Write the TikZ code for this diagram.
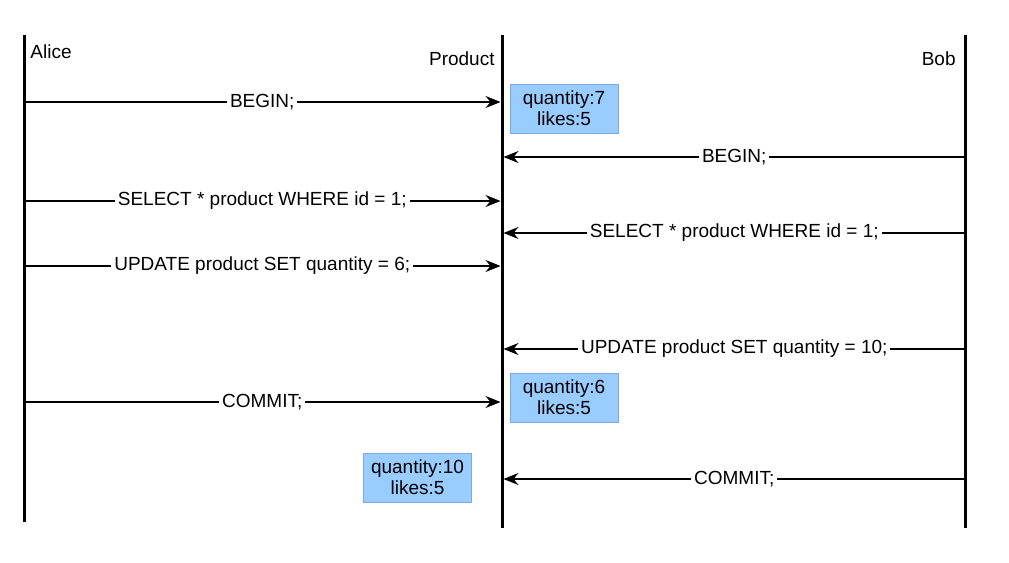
\documentclass[tikz,border=0pt]{standalone}
\usepackage{fontspec}
\setmainfont{Liberation Sans}
\usetikzlibrary{arrows.meta}
\usetikzlibrary{positioning}
\definecolor{statefill}{RGB}{153,204,255}
\definecolor{stateline}{RGB}{126,170,225}
\tikzset{
    lifeline/.style = {line width=1.5pt},
    msg/.style = {line width=0.65pt,-{Stealth[length=7.5pt,width=6pt,inset=2.5pt]}},
    msglabel/.style = {fill=white,inner xsep=1.5pt,inner ysep=1pt,font=\fontsize{9.5}{11}\selectfont},
    actor/.style = {inner sep=0,font=\fontsize{9.5}{11}\selectfont},
    statebox/.style = {draw=stateline,line width=0.5pt,fill=statefill,align=center,inner sep=0,
        minimum width=54pt,minimum height=24.5pt,font=\fontsize{9.5}{10.5}\selectfont}
}

\begin{document}
\begin{tikzpicture}[x=0.5pt,y=-0.5pt]
    \useasboundingbox (0,0) rectangle (1009,563);
    % Lifelines
    \path (24,35) coordinate (alicetop)
        to (24,522) coordinate (alicebot);
    \path (502,35) coordinate (prodtop)
        to (502,528) coordinate (prodbot);
    \path (965,35) coordinate (bobtop)
        to (965,528) coordinate (bobbot);
    \foreach \src/\dest in {alicetop/alicebot,prodtop/prodbot,bobtop/bobbot}
        \draw[lifeline] (\src) to (\dest);
    % Names
    \node[actor,anchor=west] (alice) at (30,52) {Alice};
    \node[actor,anchor=east] (product) at (495,59) {Product};
    \node[actor,anchor=east] (bob) at (956,59) {Bob};
    % Alice's statements
    \foreach \y/\txt [count=\i] in {102/{BEGIN;},201/{SELECT * product WHERE id = 1;},
            266/{UPDATE product SET quantity = 6;},402/{COMMIT;}}{
        \coordinate (a\i) at (24,\y);
        \coordinate (pa\i) at (500.5,\y);
        \draw[msg] (a\i) to node[msglabel] (amsg\i) {\txt} (pa\i);
    }
    % Bob's statements
    \foreach \y/\txt [count=\i] in {157/{BEGIN;},233/{SELECT * product WHERE id = 1;},
            349/{UPDATE product SET quantity = 10;},479/{COMMIT;}}{
        \coordinate (b\i) at (965,\y);
        \coordinate (pb\i) at (503.5,\y);
        \draw[msg] (b\i) to node[msglabel] (bmsg\i) {\txt} (pb\i);
    }
    % Product rows
    \node[statebox] (row1) at (564,108.5) {quantity:7\\likes:5};
    \node[statebox] (row2) at (564,397.5) {quantity:6\\likes:5};
    \node[statebox] (row3) at (417.5,477.5) {quantity:10\\likes:5};
\end{tikzpicture}
\end{document}
